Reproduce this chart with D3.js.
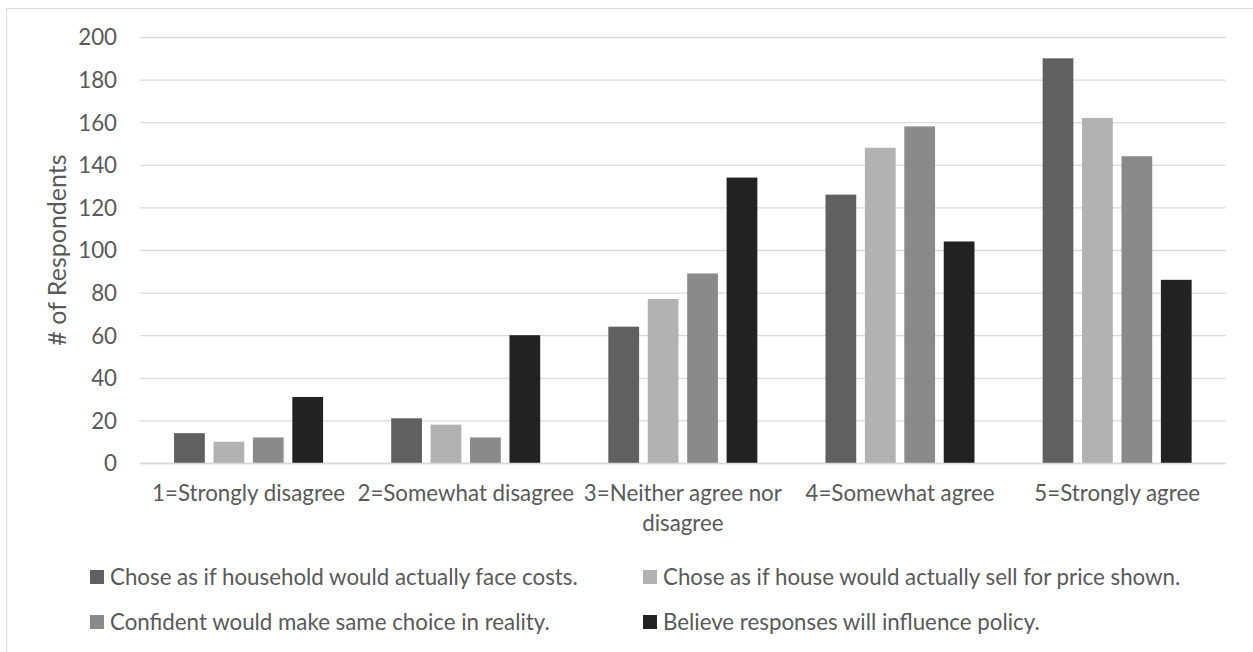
<!DOCTYPE html>
<html>
<head>
<meta charset="utf-8">
<script src="https://cdn.jsdelivr.net/npm/d3@7"></script>
<style>
  html, body { margin: 0; padding: 0; background: #fff; }
  svg { display: block; }
  text { font-family: Lato, "Open Sans", sans-serif; fill: #595959; }
</style>
</head>
<body>
<svg id="chart" width="1253" height="652"></svg>
<script>
const categories = ["1=Strongly disagree", "2=Somewhat disagree", "3=Neither agree nor disagree", "4=Somewhat agree", "5=Strongly agree"];
const seriesNames = [
  "Chose as if household would actually face costs.",
  "Chose as if house would actually sell for price shown.",
  "Confident would make same choice in reality.",
  "Believe responses will influence policy."
];
const seriesFace   = [14, 21, 64, 126, 190];
const seriesSell   = [10, 18, 77, 148, 162];
const seriesConf   = [12, 12, 89, 158, 144];
const seriesPolicy = [31, 60, 134, 104, 86];
const seriesValues = [seriesFace, seriesSell, seriesConf, seriesPolicy];
const seriesColors = ["#606060", "#b2b2b2", "#8a8a8a", "#222222"];
const yTicks = [0, 20, 40, 60, 80, 100, 120, 140, 160, 180, 200];
const yTitle = "# of Respondents";

const svg = d3.select("#chart");
const FS = "22.3px";

// chart frame (clipped at right/bottom like the reference)
svg.append("rect")
  .attr("x", 6.5).attr("y", 8.5).attr("width", 1300).attr("height", 700)
  .attr("fill", "none").attr("stroke", "#d9d9d9").attr("stroke-width", 1);

const plot = { left: 140, right: 1225.7, top: 37, bottom: 463 };

const x0 = d3.scaleBand().domain(categories).range([plot.left, plot.right]).paddingInner(0).paddingOuter(0);
const groupPad = (x0.bandwidth() - 149) / 2;
const x1 = d3.scaleBand().domain(d3.range(seriesNames.length))
  .range([groupPad, x0.bandwidth() - groupPad]).paddingInner(0.22).paddingOuter(0);
const y = d3.scaleLinear().domain([0, 200]).range([plot.bottom, plot.top]);

// gridlines + tick labels
const yAxis = d3.axisLeft(y).tickValues(yTicks).tickSize(-(plot.right - plot.left)).tickPadding(23).tickFormat(d3.format("d"));
const gy = svg.append("g").attr("transform", `translate(${plot.left},0)`).call(yAxis);
gy.select(".domain").remove();
gy.selectAll(".tick line").attr("stroke", "#d9d9d9").attr("stroke-width", 1.3);
gy.selectAll(".tick text").attr("fill", "#595959").style("font-size", FS).attr("dy", "0.35em");

// bars
const groups = svg.append("g").selectAll("g")
  .data(categories).join("g")
  .attr("transform", d => `translate(${x0(d)},0)`);
groups.selectAll("rect")
  .data((c, ci) => seriesValues.map((vals, si) => ({ si, v: vals[ci] })))
  .join("rect")
  .attr("x", d => x1(d.si))
  .attr("width", x1.bandwidth())
  .attr("y", d => y(d.v))
  .attr("height", d => y(0) - y(d.v))
  .attr("fill", d => seriesColors[d.si]);

// x axis
const xAxis = d3.axisBottom(x0).tickSize(0).tickPadding(0);
const gx = svg.append("g").attr("transform", `translate(0,${plot.bottom})`).call(xAxis);
gx.select(".domain").attr("stroke", "#d9d9d9").attr("stroke-width", 1.3);
gx.selectAll(".tick text").style("font-size", FS).attr("fill", "#595959")
  .each(function(d) {
    const t = d3.select(this);
    const words = d.split(" ");
    const maxW = 232;
    t.text(null);
    let line = [];
    let lineNo = 0;
    let tspan = t.append("tspan").attr("x", 0).attr("y", 30).attr("dy", "0.35em");
    for (const w of words) {
      line.push(w);
      tspan.text(line.join(" "));
      if (tspan.node().getComputedTextLength() > maxW && line.length > 1) {
        line.pop();
        tspan.text(line.join(" "));
        line = [w];
        lineNo++;
        tspan = t.append("tspan").attr("x", 0).attr("y", 30 + lineNo * 30).attr("dy", "0.35em").text(w);
      }
    }
  });

// y title
svg.append("text")
  .attr("transform", `translate(57,${(plot.top + plot.bottom) / 2}) rotate(-90)`)
  .attr("text-anchor", "middle").attr("dy", "0.35em")
  .style("font-size", "25px")
  .text(yTitle);

// legend
const legendPos = [[90, 577], [643, 577], [90, 622], [643, 622]];
const lg = svg.append("g").selectAll("g").data(seriesNames).join("g")
  .attr("transform", (d, i) => `translate(${legendPos[i][0]},${legendPos[i][1]})`);
lg.append("rect").attr("x", 0).attr("y", -7).attr("width", 14).attr("height", 14)
  .attr("fill", (d, i) => seriesColors[i]);
lg.append("text").attr("x", 20).attr("y", 0).attr("dy", "0.35em").style("font-size", FS).text(d => d);
</script>
</body>
</html>
